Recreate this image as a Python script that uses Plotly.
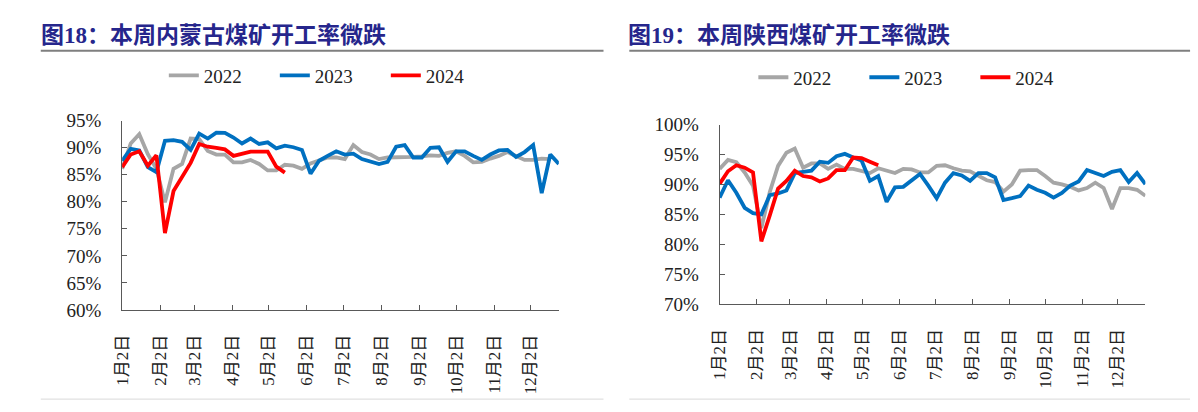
import plotly.graph_objects as go

# ---------------- data ----------------
month_ticks = [0, 31, 59, 90, 120, 151, 181, 212, 243, 273, 304, 334]
month_labels = ["1月2日", "2月2日", "3月2日", "4月2日", "5月2日", "6月2日",
                "7月2日", "8月2日", "9月2日", "10月2日", "11月2日", "12月2日"]

# 内蒙古 (left)
nm_2022 = [86.1, 90.8, 92.5, 88.8, 86.1, 79.9, 86.1, 87.0, 91.7, 91.6,
           89.4, 88.75, 88.75, 87.3, 87.3, 87.75, 87.0, 85.8, 85.8, 86.85,
           86.7, 86.1, 87.1, 87.6, 88.2, 88.2, 87.9, 90.5, 89.2, 88.75,
           87.9, 88.2, 88.2, 88.2, 88.3, 88.4, 88.6, 88.5, 89.05, 89.35,
           88.5, 87.3, 87.4, 88.0, 88.5, 89.2, 88.5, 87.75, 87.75, 88.0, 87.9]
nm_2023 = [87.6, 89.8, 89.5, 86.4, 85.5, 91.3, 91.4, 91.1, 89.6, 92.6,
           91.7, 92.8, 92.75, 91.9, 90.8, 91.7, 90.7, 91.0, 89.9, 90.4,
           90.1, 89.6, 85.2, 87.6, 88.5, 89.35, 88.75, 88.9, 87.9, 87.4,
           87.0, 87.4, 90.2, 90.5, 88.2, 88.2, 90.0, 90.1, 87.4, 89.35,
           89.35, 88.5, 87.75, 88.75, 89.5, 89.6, 88.3, 89.2, 90.5, 81.6,
           88.75, 87.0]
nm_2024 = [86.4, 88.75, 89.35, 86.7, 88.6, 74.2, 82.0, 84.7, 87.2, 90.7,
           90.2, 90.0, 89.7, 88.5, 88.9, 89.3, 89.3, 89.3, 86.5, 85.4]

# 陕西 (right)
sx_2022 = [92.6, 94.1, 93.7, 92.0, 89.8, 82.7, 88.7, 93.1, 95.3, 96.0,
           92.8, 93.5, 93.5, 92.6, 93.3, 92.6, 92.6, 92.2, 91.9, 92.7,
           92.3, 91.9, 92.6, 92.5, 92.0, 92.0, 93.1, 93.2, 92.7, 92.3,
           92.2, 91.5, 90.7, 90.4, 88.8, 90.0, 92.3, 92.4, 92.4, 91.4,
           90.3, 90.0, 89.6, 89.0, 89.4, 90.3, 89.4, 85.9, 89.4, 89.4,
           89.1, 88.1]
sx_2023 = [87.8, 90.7, 88.6, 86.1, 85.2, 85.0, 88.2, 88.5, 89.0, 91.9,
           92.1, 92.3, 93.8, 93.6, 94.7, 95.1, 94.5, 94.0, 90.6, 91.4,
           87.1, 89.5, 89.6, 90.6, 91.75, 89.8, 87.7, 90.3, 91.9, 91.5,
           90.6, 91.9, 91.9, 91.2, 87.4, 87.7, 88.05, 89.8, 89.1, 88.6,
           87.8, 88.6, 89.8, 90.5, 92.4, 91.9, 91.4, 92.1, 92.4, 90.4,
           91.9, 90.05]
sx_2024 = [90.1, 92.2, 93.2, 92.8, 92.0, 80.5, 84.8, 89.3, 90.6, 92.3,
           91.4, 91.2, 90.5, 91.0, 92.4, 92.4, 94.5, 94.4, 93.8, 93.2]

years = ["2022", "2023", "2024"]
colors = {"2022": "#A6A6A6", "2023": "#0070C0", "2024": "#FF0000"}

W, H = 1198, 412
SERIF = "Liberation Serif, Times New Roman, Noto Sans CJK SC, serif"
TITLE_FONT = "Liberation Serif, Noto Sans CJK SC, serif"


def days(vals):
    return [7 * i for i in range(len(vals))]


fig = go.Figure()
for yr, vals in zip(years, [nm_2022, nm_2023, nm_2024]):
    fig.add_trace(go.Scatter(x=days(vals), y=[v / 100 for v in vals], mode="lines",
                             name=yr, line=dict(color=colors[yr], width=3.8),
                             xaxis="x", yaxis="y", legend="legend"))
for yr, vals in zip(years, [sx_2022, sx_2023, sx_2024]):
    fig.add_trace(go.Scatter(x=days(vals), y=[v / 100 for v in vals], mode="lines",
                             name=yr, line=dict(color=colors[yr], width=3.8),
                             xaxis="x2", yaxis="y2", legend="legend2"))

axcol = "#595959"
xcommon = dict(range=[0, 357], tickmode="array", tickvals=month_ticks,
               ticktext=month_labels, tickangle=-90, ticks="inside", ticklen=5,
               tickcolor=axcol, showline=True, linecolor=axcol, linewidth=1,
               showgrid=False, zeroline=False,
               tickfont=dict(family=SERIF, size=17, color="#222222"),
               ticklabelstandoff=17)
ycommon = dict(ticks="inside", ticklen=5, tickcolor=axcol, showline=True,
               linecolor=axcol, linewidth=1, showgrid=False, zeroline=False,
               tickformat=".0%", tickfont=dict(family=SERIF, size=19, color="#222222"),
               ticklabelstandoff=16)


def px_x(p):
    return p / W


def px_y(p):
    return 1 - p / H


fig.update_layout(
    width=W, height=H, margin=dict(l=0, r=0, t=0, b=0),
    paper_bgcolor="white", plot_bgcolor="white", showlegend=True,
    xaxis=dict(domain=[px_x(114), px_x(554)], anchor="y", **xcommon),
    yaxis=dict(domain=[px_y(316), px_y(116.7)], anchor="x", range=[0.60, 0.95],
               tickvals=[0.60, 0.65, 0.70, 0.75, 0.80, 0.85, 0.90, 0.95], **ycommon),
    xaxis2=dict(domain=[px_x(716), px_x(1145)], anchor="y2", **xcommon),
    yaxis2=dict(domain=[px_y(310), px_y(120.7)], anchor="x2", range=[0.70, 1.00],
                tickvals=[0.70, 0.75, 0.80, 0.85, 0.90, 0.95, 1.00], **ycommon),
    legend=dict(orientation="h", x=px_x(156), y=px_y(69), xanchor="left",
                yanchor="middle", font=dict(family=SERIF, size=19, color="#222222"),
                bgcolor="rgba(0,0,0,0)", entrywidth=66, entrywidthmode="pixels",
                itemclick=False, itemdoubleclick=False),
    legend2=dict(orientation="h", x=px_x(750), y=px_y(71), xanchor="left",
                 yanchor="middle", font=dict(family=SERIF, size=19, color="#222222"),
                 bgcolor="rgba(0,0,0,0)", entrywidth=66, entrywidthmode="pixels",
                 itemclick=False, itemdoubleclick=False),
)

title_color = "#26268C"
fig.add_annotation(text="<b>图18：本周内蒙古煤矿开工率微跌</b>", xref="paper", yref="paper",
                   x=px_x(30), y=px_y(27), xanchor="left", yanchor="middle",
                   showarrow=False, font=dict(family=TITLE_FONT, size=23, color=title_color))
fig.add_annotation(text="<b>图19：本周陕西煤矿开工率微跌</b>", xref="paper", yref="paper",
                   x=px_x(622), y=px_y(27), xanchor="left", yanchor="middle",
                   showarrow=False, font=dict(family=TITLE_FONT, size=23, color=title_color))
fig.add_shape(type="line", xref="paper", yref="paper", x0=px_x(32), x1=px_x(599),
              y0=px_y(43), y1=px_y(43), line=dict(color="#7F7F7F", width=2))
fig.add_shape(type="line", xref="paper", yref="paper", x0=px_x(625), x1=px_x(1190),
              y0=px_y(43), y1=px_y(43), line=dict(color="#7F7F7F", width=2))
# faint bottom rules
fig.add_shape(type="line", xref="paper", yref="paper", x0=px_x(32), x1=px_x(599),
              y0=px_y(410), y1=px_y(410), line=dict(color="#D9D9D9", width=1))
fig.add_shape(type="line", xref="paper", yref="paper", x0=px_x(625), x1=px_x(1190),
              y0=px_y(410), y1=px_y(410), line=dict(color="#D9D9D9", width=1))

fig.write_html("out.html")
